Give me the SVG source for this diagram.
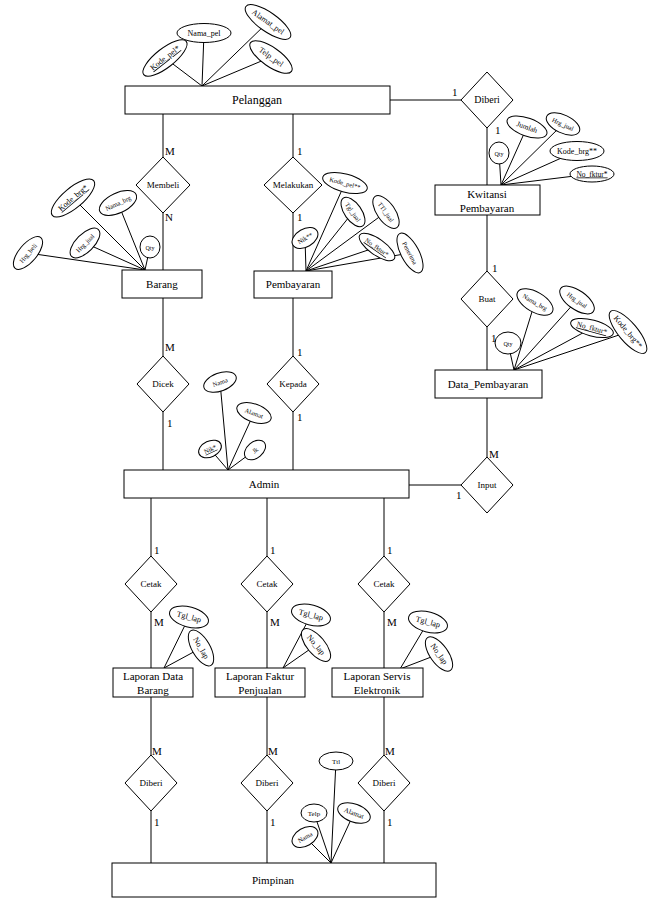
<svg xmlns="http://www.w3.org/2000/svg" width="660" height="898" viewBox="0 0 660 898" font-family="'Liberation Serif', 'Times New Roman', 'DejaVu Serif', serif">
<style>
text{font-family:'Liberation Serif','Times New Roman','DejaVu Serif',serif;fill:#000}
.ent{fill:#fff;stroke:#000;stroke-width:1}
.rel{fill:#fff;stroke:#000;stroke-width:1}
.att ellipse{fill:#fff;stroke:#000;stroke-width:1}
.att text{font-size:8px;text-anchor:middle}
.u{text-decoration:underline}
.et{font-size:11px;text-anchor:middle}
.rt{font-size:9px;text-anchor:middle}
.card{font-size:11px}
#connectors line{stroke:#000;stroke-width:1}
</style>
<rect width="660" height="898" fill="#fff"/>
<g id="connectors">
<line x1="163" y1="114" x2="163" y2="157"/>
<line x1="163" y1="213" x2="163" y2="270"/>
<line x1="293" y1="114" x2="293" y2="157"/>
<line x1="293" y1="213" x2="293" y2="271"/>
<line x1="163" y1="298" x2="163" y2="356"/>
<line x1="163" y1="412" x2="163" y2="470"/>
<line x1="293" y1="298" x2="293" y2="356"/>
<line x1="293" y1="412" x2="293" y2="470"/>
<line x1="390" y1="100" x2="461" y2="100"/>
<line x1="487" y1="128" x2="487" y2="185"/>
<line x1="487" y1="215" x2="487" y2="271"/>
<line x1="487" y1="327" x2="487" y2="370"/>
<line x1="487" y1="398" x2="487" y2="457"/>
<line x1="409" y1="485" x2="461" y2="485"/>
<line x1="151" y1="498" x2="151" y2="556"/>
<line x1="151" y1="612" x2="151" y2="668"/>
<line x1="267" y1="498" x2="267" y2="556"/>
<line x1="267" y1="612" x2="267" y2="668"/>
<line x1="384" y1="498" x2="384" y2="556"/>
<line x1="384" y1="612" x2="384" y2="668"/>
<line x1="151" y1="697" x2="151" y2="755"/>
<line x1="151" y1="811" x2="151" y2="863"/>
<line x1="267" y1="697" x2="267" y2="755"/>
<line x1="267" y1="811" x2="267" y2="863"/>
<line x1="384" y1="697" x2="384" y2="755"/>
<line x1="384" y1="811" x2="384" y2="863"/>
<line x1="202" y1="86" x2="165" y2="58"/>
<line x1="202" y1="86" x2="204" y2="33"/>
<line x1="202" y1="86" x2="268" y2="22"/>
<line x1="202" y1="86" x2="271" y2="57"/>
<line x1="501" y1="185" x2="499" y2="153"/>
<line x1="501" y1="185" x2="527" y2="127"/>
<line x1="501" y1="185" x2="563" y2="124"/>
<line x1="501" y1="185" x2="577" y2="151"/>
<line x1="501" y1="185" x2="591" y2="174"/>
<line x1="145" y1="270" x2="73" y2="198"/>
<line x1="145" y1="270" x2="118" y2="203"/>
<line x1="145" y1="270" x2="85" y2="243"/>
<line x1="145" y1="270" x2="150" y2="247"/>
<line x1="145" y1="270" x2="28" y2="253"/>
<line x1="306" y1="271" x2="305" y2="238"/>
<line x1="306" y1="271" x2="345" y2="183"/>
<line x1="306" y1="271" x2="353" y2="212"/>
<line x1="306" y1="271" x2="386" y2="212"/>
<line x1="306" y1="271" x2="377" y2="247"/>
<line x1="306" y1="271" x2="410" y2="253"/>
<line x1="514" y1="370" x2="508" y2="343"/>
<line x1="514" y1="370" x2="535" y2="302"/>
<line x1="514" y1="370" x2="577" y2="300"/>
<line x1="514" y1="370" x2="592" y2="328"/>
<line x1="514" y1="370" x2="628" y2="332"/>
<line x1="228" y1="470" x2="220" y2="382"/>
<line x1="228" y1="470" x2="254" y2="413"/>
<line x1="228" y1="470" x2="210" y2="449"/>
<line x1="228" y1="470" x2="255" y2="450"/>
<line x1="164" y1="668" x2="189" y2="617"/>
<line x1="164" y1="668" x2="201" y2="648"/>
<line x1="283" y1="668" x2="311" y2="615"/>
<line x1="283" y1="668" x2="316" y2="645"/>
<line x1="400" y1="669" x2="428" y2="622"/>
<line x1="400" y1="669" x2="439" y2="654"/>
<line x1="331" y1="863" x2="336" y2="761"/>
<line x1="331" y1="863" x2="314" y2="813"/>
<line x1="331" y1="863" x2="354" y2="813"/>
<line x1="331" y1="863" x2="305" y2="837"/>
</g>
<g id="pelanggan"><rect class="ent" x="125" y="86" width="265" height="28"/><text class="et" x="257" y="104" style="font-size:12px">Pelanggan</text></g>
<g id="barang"><rect class="ent" x="122" y="270" width="80" height="28"/><text class="et" x="162" y="288">Barang</text></g>
<g id="pembayaran"><rect class="ent" x="254" y="271" width="78" height="27"/><text class="et" x="293" y="288">Pembayaran</text></g>
<g id="kwitansi"><rect class="ent" x="435" y="185" width="105" height="30"/><text class="et" x="487" y="198">Kwitansi</text><text class="et" x="487" y="212">Pembayaran</text></g>
<g id="data_pembayaran"><rect class="ent" x="435" y="370" width="107" height="28"/><text class="et" x="488" y="388">Data_Pembayaran</text></g>
<g id="admin"><rect class="ent" x="124" y="470" width="285" height="28"/><text class="et" x="264" y="488">Admin</text></g>
<g id="lap_barang"><rect class="ent" x="113" y="668" width="80" height="29"/><text class="et" x="153" y="680">Laporan Data</text><text class="et" x="153" y="694">Barang</text></g>
<g id="lap_faktur"><rect class="ent" x="215" y="668" width="90" height="29"/><text class="et" x="260" y="680">Laporan Faktur</text><text class="et" x="260" y="694">Penjualan</text></g>
<g id="lap_servis"><rect class="ent" x="332" y="668" width="91" height="29"/><text class="et" x="377" y="680">Laporan Servis</text><text class="et" x="377" y="694">Elektronik</text></g>
<g id="pimpinan"><rect class="ent" x="112" y="863" width="324" height="34"/><text class="et" x="273" y="884">Pimpinan</text></g>
<g id="membeli"><polygon class="rel" points="163,157 190,185 163,213 136,185"/><text class="rt" x="163" y="188">Membeli</text></g>
<g id="melakukan"><polygon class="rel" points="293,157 322,185 293,213 264,185"/><text class="rt" x="293" y="188">Melakukan</text></g>
<g id="dicek"><polygon class="rel" points="163,356 189,384 163,412 137,384"/><text class="rt" x="163" y="387">Dicek</text></g>
<g id="kepada"><polygon class="rel" points="293,356 319,384 293,412 267,384"/><text class="rt" x="293" y="387">Kepada</text></g>
<g id="diberi_top"><polygon class="rel" points="487,72 513,100 487,128 461,100"/><text class="rt" x="487" y="103" style="font-size:10px">Diberi</text></g>
<g id="buat"><polygon class="rel" points="487,271 513,299 487,327 461,299"/><text class="rt" x="487" y="302">Buat</text></g>
<g id="input"><polygon class="rel" points="487,457 513,485 487,513 461,485"/><text class="rt" x="487" y="488">Input</text></g>
<g id="cetak1"><polygon class="rel" points="151,556 177,584 151,612 125,584"/><text class="rt" x="151" y="587">Cetak</text></g>
<g id="cetak2"><polygon class="rel" points="267,556 293,584 267,612 241,584"/><text class="rt" x="267" y="587">Cetak</text></g>
<g id="cetak3"><polygon class="rel" points="384,556 410,584 384,612 358,584"/><text class="rt" x="384" y="587">Cetak</text></g>
<g id="diberi1"><polygon class="rel" points="151,755 177,783 151,811 125,783"/><text class="rt" x="151" y="786">Diberi</text></g>
<g id="diberi2"><polygon class="rel" points="267,755 293,783 267,811 241,783"/><text class="rt" x="267" y="786">Diberi</text></g>
<g id="diberi3"><polygon class="rel" points="384,755 410,783 384,811 358,783"/><text class="rt" x="384" y="786">Diberi</text></g>
<g id="cardinalities">
<text class="card" x="165" y="155">M</text>
<text class="card" x="165" y="221">N</text>
<text class="card" x="297" y="155">1</text>
<text class="card" x="297" y="221">1</text>
<text class="card" x="165" y="351">M</text>
<text class="card" x="167" y="427">1</text>
<text class="card" x="297" y="356">1</text>
<text class="card" x="297" y="421">1</text>
<text class="card" x="452" y="96">1</text>
<text class="card" x="495" y="134">1</text>
<text class="card" x="492" y="272">1</text>
<text class="card" x="491" y="342">1</text>
<text class="card" x="489" y="458">M</text>
<text class="card" x="456" y="499">1</text>
<text class="card" x="154" y="554">1</text>
<text class="card" x="154" y="626">M</text>
<text class="card" x="270" y="554">1</text>
<text class="card" x="270" y="626">M</text>
<text class="card" x="387" y="554">1</text>
<text class="card" x="387" y="626">M</text>
<text class="card" x="152" y="755">M</text>
<text class="card" x="154" y="826">1</text>
<text class="card" x="268" y="755">M</text>
<text class="card" x="270" y="826">1</text>
<text class="card" x="385" y="755">M</text>
<text class="card" x="387" y="826">1</text>
</g>
<g id="a_kode_pel" class="att" transform="translate(165,58) rotate(-38)"><ellipse rx="27" ry="9.5"/><text y="2.5" class="u">Kode_pel*</text></g>
<g id="a_nama_pel" class="att" transform="translate(204,33)"><ellipse rx="27" ry="9.5"/><text y="2.5">Nama_pel</text></g>
<g id="a_alamat_pel" class="att" transform="translate(268,22) rotate(35)"><ellipse rx="27" ry="9.5"/><text y="2.5">Alamat_pel</text></g>
<g id="a_telp_pel" class="att" transform="translate(271,57) rotate(35)"><ellipse rx="25" ry="9.5"/><text y="2.5">Telp_pel</text></g>
<g id="a_k_qty" class="att" transform="translate(499,153)"><ellipse rx="10" ry="11"/><text y="2.5" style="font-size:6px">Qty</text></g>
<g id="a_k_jumlah" class="att" transform="translate(527,127) rotate(20)"><ellipse rx="21" ry="9"/><text y="2.5" style="font-size:7.5px">Jumlah</text></g>
<g id="a_k_hrg" class="att" transform="translate(563,124) rotate(25)"><ellipse rx="18" ry="9"/><text y="2.5" style="font-size:6.5px">Hrg_jual</text></g>
<g id="a_k_kode" class="att" transform="translate(577,151)"><ellipse rx="27" ry="9.5"/><text y="2.5">Kode_brg**</text></g>
<g id="a_k_nofktur" class="att" transform="translate(592,174)"><ellipse rx="22" ry="8"/><text y="2.5" class="u" style="font-size:7.5px">No_fktur*</text></g>
<g id="a_b_kode" class="att" transform="translate(73,198) rotate(-40)"><ellipse rx="27" ry="10"/><text y="2.5" class="u">Kode_brg*</text></g>
<g id="a_b_nama" class="att" transform="translate(118,203) rotate(-25)"><ellipse rx="20" ry="10"/><text y="2.5" style="font-size:6.5px">Nama_brg</text></g>
<g id="a_b_hrgjual" class="att" transform="translate(85,243) rotate(-45)"><ellipse rx="19" ry="9"/><text y="2.5" style="font-size:6.5px">Hrg_jual</text></g>
<g id="a_b_qty" class="att" transform="translate(150,247)"><ellipse rx="10" ry="11"/><text y="2.5" style="font-size:6px">Qty</text></g>
<g id="a_b_hrgbeli" class="att" transform="translate(28,253) rotate(-50)"><ellipse rx="20" ry="9"/><text y="2.5" style="font-size:6.5px">Hrg_beli</text></g>
<g id="a_p_nik" class="att" transform="translate(305,238) rotate(-30)"><ellipse rx="14" ry="9"/><text y="2.5" style="font-size:6.5px">Nik**</text></g>
<g id="a_p_kodepel" class="att" transform="translate(345,183) rotate(15)"><ellipse rx="23" ry="9"/><text y="2.5" style="font-size:6.5px">Kode_pel**</text></g>
<g id="a_p_tgl" class="att" transform="translate(353,212) rotate(55)"><ellipse rx="17" ry="8.5"/><text y="2.5" style="font-size:6.5px">Tgl_jual</text></g>
<g id="a_p_ttl" class="att" transform="translate(386,212) rotate(55)"><ellipse rx="19" ry="9"/><text y="2.5" style="font-size:6.5px">TTl_jual</text></g>
<g id="a_p_nofktur" class="att" transform="translate(377,247) rotate(35)"><ellipse rx="21" ry="8"/><text y="2.5" class="u" style="font-size:6.5px">No_fktur*</text></g>
<g id="a_p_penerima" class="att" transform="translate(410,253) rotate(62)"><ellipse rx="22" ry="9"/><text y="2.5" style="font-size:6.5px">Penerima</text></g>
<g id="a_d_qty" class="att" transform="translate(508,343)"><ellipse rx="13" ry="11"/><text y="2.5" style="font-size:6px">Qty</text></g>
<g id="a_d_nama" class="att" transform="translate(535,302) rotate(30)"><ellipse rx="20" ry="10"/><text y="2.5" style="font-size:6.5px">Nama_brg</text></g>
<g id="a_d_hrg" class="att" transform="translate(577,300) rotate(35)"><ellipse rx="20" ry="9.5"/><text y="2.5" style="font-size:6.5px">Hrg_jual</text></g>
<g id="a_d_nofktur" class="att" transform="translate(592,328) rotate(15)"><ellipse rx="22" ry="8"/><text y="2.5" class="u" style="font-size:7.5px">No_fktur*</text></g>
<g id="a_d_kode" class="att" transform="translate(628,332) rotate(50)"><ellipse rx="27" ry="9.5"/><text y="2.5">Kode_brg**</text></g>
<g id="a_a_nama" class="att" transform="translate(220,382) rotate(-20)"><ellipse rx="17" ry="9"/><text y="2.5" style="font-size:6.5px">Nama</text></g>
<g id="a_a_alamat" class="att" transform="translate(254,413) rotate(20)"><ellipse rx="18" ry="9"/><text y="2.5" style="font-size:6.5px">Alamat</text></g>
<g id="a_a_nik" class="att" transform="translate(210,449) rotate(-25)"><ellipse rx="12" ry="8"/><text y="2.5" class="u" style="font-size:6.5px">Nik*</text></g>
<g id="a_a_jk" class="att" transform="translate(255,450) rotate(-40)"><ellipse rx="12" ry="8"/><text y="2.5" style="font-size:6.5px">Jk</text></g>
<g id="a_l1_tgl" class="att" transform="translate(189,617) rotate(15)"><ellipse rx="20" ry="10"/><text y="2.5">Tgl_lap</text></g>
<g id="a_l1_no" class="att" transform="translate(201,648) rotate(60)"><ellipse rx="20" ry="9"/><text y="2.5">No_lap</text></g>
<g id="a_l2_tgl" class="att" transform="translate(311,615) rotate(15)"><ellipse rx="20" ry="10"/><text y="2.5">Tgl_lap</text></g>
<g id="a_l2_no" class="att" transform="translate(316,645) rotate(50)"><ellipse rx="20" ry="9"/><text y="2.5">No_lap</text></g>
<g id="a_l3_tgl" class="att" transform="translate(428,622) rotate(15)"><ellipse rx="20" ry="10"/><text y="2.5">Tgl_lap</text></g>
<g id="a_l3_no" class="att" transform="translate(439,654) rotate(55)"><ellipse rx="20" ry="9"/><text y="2.5">No_lap</text></g>
<g id="a_pi_ttl" class="att" transform="translate(336,761)"><ellipse rx="17" ry="9"/><text y="2.5" style="font-size:7px">Ttl</text></g>
<g id="a_pi_telp" class="att" transform="translate(314,813)"><ellipse rx="13" ry="9"/><text y="2.5" style="font-size:7px">Telp</text></g>
<g id="a_pi_alamat" class="att" transform="translate(354,813) rotate(20)"><ellipse rx="17" ry="9"/><text y="2.5" style="font-size:7px">Alamat</text></g>
<g id="a_pi_nama" class="att" transform="translate(305,837) rotate(-30)"><ellipse rx="14" ry="9"/><text y="2.5" style="font-size:6.5px">Nama</text></g>
</svg>
